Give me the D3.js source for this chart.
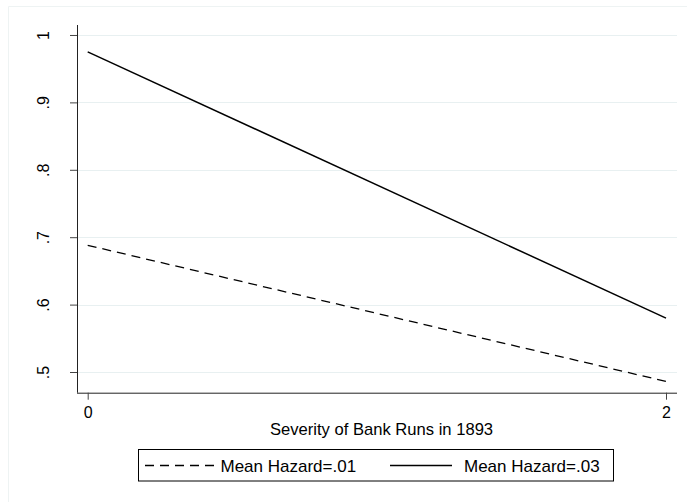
<!DOCTYPE html>
<html lang="en">
<head>
<meta charset="UTF-8">
<title>Severity of Bank Runs in 1893</title>
<script src="https://d3js.org/d3.v7.min.js"></script>
<style>
  body { margin: 0; background: #fff; }
  svg text { font-family: "Liberation Sans", Arial, sans-serif; fill: #000; }
</style>
</head>
<body>
<svg width="687" height="502"></svg>
<script>
// data
const severity = [0, 2];
const hazard01 = [0.688, 0.486];
const hazard03 = [0.975, 0.580];
const seriesNames = ["Mean Hazard=.01", "Mean Hazard=.03"];
const yTicks = [0.5, 0.6, 0.7, 0.8, 0.9, 1];
const yTickLabels = [".5", ".6", ".7", ".8", ".9", "1"];
const xTicks = [0, 2];

const svg = d3.select("svg");

const x = d3.scaleLinear().domain([-0.037, 2.038]).range([77, 677]);
const y = d3.scaleLinear().domain([0.4693, 1.0148]).range([392.7, 25]);

// faint outer frame of the graph region
svg.append("path")
    .attr("d", "M8.5,502 V6.5 H687")
    .attr("fill", "none")
    .attr("stroke", "#eef3f3")
    .attr("stroke-width", 1);

// gridlines
svg.append("g").selectAll("line")
    .data(yTicks)
    .join("line")
    .attr("x1", x.range()[0]).attr("x2", x.range()[1])
    .attr("y1", d => Math.round(y(d)) + 0.5).attr("y2", d => Math.round(y(d)) + 0.5)
    .attr("stroke", "#e8f0f1")
    .attr("stroke-width", 1.2);

// y axis
const yAxis = svg.append("g")
    .attr("transform", `translate(${x.range()[0]},0)`)
    .call(d3.axisLeft(y).tickValues(yTicks).tickSize(7).tickPadding(0).tickFormat(""));
yAxis.select(".domain").attr("stroke", "#222").attr("d", `M0.5,${y.range()[1]}V${y.range()[0]}`);
yAxis.selectAll(".tick line").attr("stroke", "#444");
yAxis.selectAll(".tick").append("text")
    .attr("transform", "translate(-28,0) rotate(-90)")
    .attr("text-anchor", "middle")
    .attr("font-size", 16)
    .attr("fill", "#000")
    .text((d, i) => yTickLabels[i]);

// x axis
const xAxis = svg.append("g")
    .attr("transform", `translate(0,${y.range()[0]})`)
    .call(d3.axisBottom(x).tickValues(xTicks).tickSize(7).tickPadding(0).tickFormat(""));
xAxis.select(".domain").attr("stroke", "#222").attr("d", `M${x.range()[0]},0.5H${x.range()[1]}`);
xAxis.selectAll(".tick line").attr("stroke", "#444");
xAxis.selectAll(".tick").append("text")
    .attr("y", 25.5)
    .attr("text-anchor", "middle")
    .attr("font-size", 16)
    .attr("fill", "#000")
    .text(d => d);

// x axis title
svg.append("text")
    .attr("x", 381.5)
    .attr("y", 435)
    .attr("text-anchor", "middle")
    .attr("font-size", 16.6)
    .text("Severity of Bank Runs in 1893");

// lines
const line = d3.line().x(d => x(d[0])).y(d => y(d[1]));
svg.append("path")
    .datum(d3.zip(severity, hazard01))
    .attr("d", line)
    .attr("fill", "none")
    .attr("stroke", "#000")
    .attr("stroke-width", 1.3)
    .attr("stroke-dasharray", "9,6");
svg.append("path")
    .datum(d3.zip(severity, hazard03))
    .attr("d", line)
    .attr("fill", "none")
    .attr("stroke", "#000")
    .attr("stroke-width", 1.5);

// legend
const legend = svg.append("g");
legend.append("rect")
    .attr("x", 138.5).attr("y", 449.5)
    .attr("width", 475).attr("height", 31.5)
    .attr("fill", "#fff")
    .attr("stroke", "#000")
    .attr("stroke-width", 1);
legend.append("line")
    .attr("x1", 145).attr("x2", 214).attr("y1", 465.5).attr("y2", 465.5)
    .attr("stroke", "#000").attr("stroke-width", 1.3).attr("stroke-dasharray", "9,6");
legend.append("line")
    .attr("x1", 390).attr("x2", 452).attr("y1", 465.5).attr("y2", 465.5)
    .attr("stroke", "#000").attr("stroke-width", 1.5);
legend.append("text").attr("x", 220.5).attr("y", 471.5).attr("font-size", 17).text(seriesNames[0]);
legend.append("text").attr("x", 464).attr("y", 471.5).attr("font-size", 17).text(seriesNames[1]);
</script>
</body>
</html>
